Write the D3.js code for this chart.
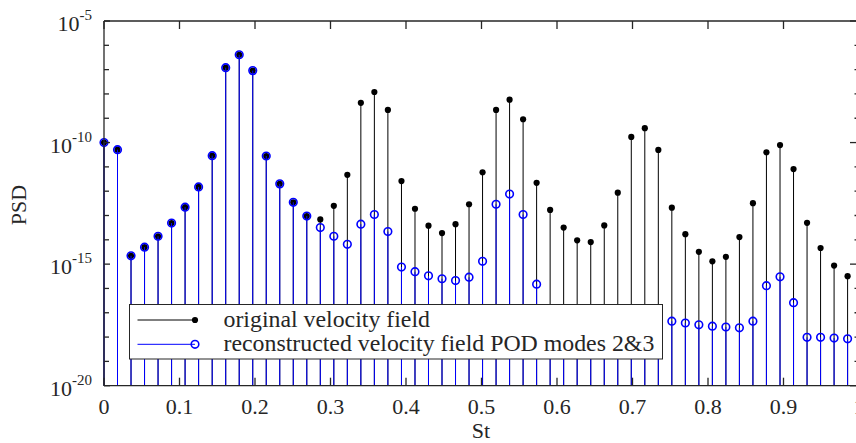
<!DOCTYPE html>
<html><head><meta charset="utf-8">
<script src="https://cdnjs.cloudflare.com/ajax/libs/d3/7.8.5/d3.min.js"></script>
</head>
<body style="margin:0;background:#fff">
<svg id="chart" width="856" height="443" style="display:block"></svg>
<script>
// Strouhal numbers (x categories)
const st = [0,0.0179,0.0358,0.0537,0.0716,0.0895,0.1074,0.1253,0.1433,0.1612,0.1791,0.1970,0.2149,0.2328,0.2507,0.2686,
0.2865,0.3044,0.3223,0.3402,0.3581,0.3760,0.3940,0.4119,0.4298,0.4477,0.4656,0.4835,0.5014,0.5193,0.5372,0.5551,
0.5730,0.5909,0.6088,0.6267,0.6447,0.6626,0.6805,0.6984,0.7163,0.7342,0.7521,0.7700,0.7879,0.8058,0.8237,0.8416,
0.8595,0.8774,0.8954,0.9133,0.9312,0.9491,0.9670,0.9849];
// PSD of the original velocity field
const original = [1.0e-10,5.1e-11,2.2e-15,5.0e-15,1.4e-14,4.9e-14,2.2e-13,1.5e-12,2.9e-11,1.2e-7,4.1e-7,9.1e-8,2.8e-11,2.0e-12,3.5e-13,9.5e-14,
6.9e-14,2.5e-13,4.7e-12,4.3e-9,1.2e-8,2.2e-9,2.6e-12,1.9e-13,3.8e-14,1.9e-14,4.4e-14,2.9e-13,6.0e-12,2.2e-9,5.8e-9,9.1e-10,
2.2e-12,1.7e-13,3.2e-14,9.5e-15,8.1e-15,3.9e-14,8.7e-13,1.7e-10,3.9e-10,5.0e-11,2.1e-13,1.7e-14,3.2e-15,1.3e-15,2.0e-15,1.3e-14,
3.2e-13,4.0e-11,7.9e-11,8.1e-12,5.0e-14,4.6e-15,8.7e-16,3.2e-16];
// PSD of the reconstructed field (POD modes 2&3)
const reconstructed = [1.0e-10,5.1e-11,2.2e-15,5.0e-15,1.4e-14,4.9e-14,2.2e-13,1.5e-12,2.9e-11,1.2e-7,4.1e-7,9.1e-8,2.8e-11,2.0e-12,3.5e-13,9.5e-14,
3.2e-14,1.4e-14,6.5e-15,4.4e-14,1.1e-13,2.2e-14,7.6e-16,4.9e-16,3.3e-16,2.5e-16,2.1e-16,2.9e-16,1.3e-15,2.9e-13,7.6e-13,1.1e-13,
1.5e-16,4.5e-18,4.2e-18,4.0e-18,3.8e-18,4.0e-18,4.5e-18,5.0e-18,5.0e-18,4.6e-18,4.5e-18,3.8e-18,3.2e-18,2.8e-18,2.6e-18,2.4e-18,
4.5e-18,1.3e-16,3.0e-16,2.6e-17,9.8e-19,9.8e-19,9.1e-19,8.5e-19];
const xTicks = [0,0.1,0.2,0.3,0.4,0.5,0.6,0.7,0.8,0.9,1];
const xTickLabels = ["0","0.1","0.2","0.3","0.4","0.5","0.6","0.7","0.8","0.9","1"];
const yTicks = [1e-5,1e-10,1e-15,1e-20];
const yTickExps = ["-5","-10","-15","-20"];
const yMinorTicks = [1e-6,1e-7,1e-8,1e-9,1e-11,1e-12,1e-13,1e-14,1e-16,1e-17,1e-18,1e-19];
const legendLabels = ["original velocity field","reconstructed velocity field POD modes 2&3"];

const FONT = "'Liberation Serif', 'Times New Roman'";
const svg = d3.select("#chart");
const L = 104, R = 859, T = 21, B = 385.7;
const x = d3.scaleLinear().domain([0,1]).range([L,R]);
const y = d3.scaleLog().domain([1e-20,1e-5]).range([B,T]);
const axisCol = "#262626";
const txt = "#262626";
function tx(sel){ return sel.style("font-family",FONT).attr("fill",txt); }

// stems: original (black)
const gO = svg.append("g");
gO.selectAll("line").data(original).join("line")
  .attr("x1",(d,i)=>x(st[i])).attr("x2",(d,i)=>x(st[i]))
  .attr("y1",y(1e-20)).attr("y2",d=>y(d))
  .attr("stroke","#000").attr("stroke-width",1);
gO.selectAll("circle").data(original).join("circle")
  .attr("cx",(d,i)=>x(st[i])).attr("cy",d=>y(d)).attr("r",3.1).attr("fill","#000");
// stems: reconstructed (blue)
const gR = svg.append("g");
gR.selectAll("line").data(reconstructed).join("line")
  .attr("x1",(d,i)=>x(st[i])).attr("x2",(d,i)=>x(st[i]))
  .attr("y1",y(1e-20)).attr("y2",d=>y(d))
  .attr("stroke","#0000ff").attr("stroke-width",1);
gR.selectAll("circle").data(reconstructed).join("circle")
  .attr("cx",(d,i)=>x(st[i])).attr("cy",d=>y(d)).attr("r",3.8)
  .attr("fill","none").attr("stroke","#0000ff").attr("stroke-width",1.6);

// axes frame
const ax = svg.append("g").attr("stroke",axisCol).attr("stroke-width",1.3).attr("fill","none");
ax.append("line").attr("x1",L).attr("x2",R).attr("y1",T).attr("y2",T);
ax.append("line").attr("x1",L).attr("x2",R).attr("y1",B).attr("y2",B);
ax.append("line").attr("x1",L).attr("x2",L).attr("y1",T).attr("y2",B);
ax.append("line").attr("x1",R).attr("x2",R).attr("y1",T).attr("y2",B);
xTicks.forEach(t=>{
  ax.append("line").attr("x1",x(t)).attr("x2",x(t)).attr("y1",B).attr("y2",B-8);
  ax.append("line").attr("x1",x(t)).attr("x2",x(t)).attr("y1",T).attr("y2",T+8);
});
yTicks.forEach(t=>{
  ax.append("line").attr("x1",L).attr("x2",L+6).attr("y1",y(t)).attr("y2",y(t));
  ax.append("line").attr("x1",R).attr("x2",R-9).attr("y1",y(t)).attr("y2",y(t));
});
yMinorTicks.forEach(t=>{
  ax.append("line").attr("x1",L).attr("x2",L+5).attr("y1",y(t)).attr("y2",y(t));
  ax.append("line").attr("x1",R).attr("x2",R-4.5).attr("y1",y(t)).attr("y2",y(t));
});

// x tick labels
tx(svg.append("g").selectAll("text").data(xTicks).join("text")
  .attr("x",d=>x(d)).attr("y",B+28.5).attr("text-anchor","middle")
  .attr("font-size",22).text((d,i)=>xTickLabels[i]));
// y tick labels
const yl = tx(svg.append("g").selectAll("text").data(yTicks).join("text")
  .attr("x",92).attr("y",d=>y(d)+10).attr("text-anchor","end").attr("font-size",22));
yl.append("tspan").text("10");
yl.append("tspan").attr("dy",-11).attr("font-size",15).text((d,i)=>yTickExps[i]);

// axis titles
tx(svg.append("text").attr("x",481).attr("y",438).attr("text-anchor","middle").attr("font-size",22).text("St"));
tx(svg.append("text").attr("transform","translate(26,205) rotate(-90)").attr("text-anchor","middle").attr("font-size",22).text("PSD"));

// legend
const lg = svg.append("g");
lg.append("rect").attr("x",129.5).attr("y",304.5).attr("width",533).attr("height",54.5)
  .attr("fill","#fff").attr("stroke",axisCol).attr("stroke-width",1);
const rows = [320, 344.3];
lg.append("line").attr("x1",137.5).attr("x2",195).attr("y1",rows[0]).attr("y2",rows[0]).attr("stroke","#000").attr("stroke-width",1);
lg.append("circle").attr("cx",195).attr("cy",rows[0]).attr("r",3.1).attr("fill","#000");
lg.append("line").attr("x1",137.5).attr("x2",195).attr("y1",rows[1]).attr("y2",rows[1]).attr("stroke","#0000ff").attr("stroke-width",1);
lg.append("circle").attr("cx",195).attr("cy",rows[1]).attr("r",3.8).attr("fill","none").attr("stroke","#0000ff").attr("stroke-width",1.6);
const lt = tx(lg.selectAll("text.lt").data(legendLabels).join("text").attr("class","lt")
  .attr("x",223.5).attr("y",(d,i)=>rows[i]+6.5).attr("font-size",20).text(d=>d));
const w = lt.nodes()[1].getComputedTextLength();
lt.attr("font-size",Math.min(24,20*431/w));
</script>
</body></html>
